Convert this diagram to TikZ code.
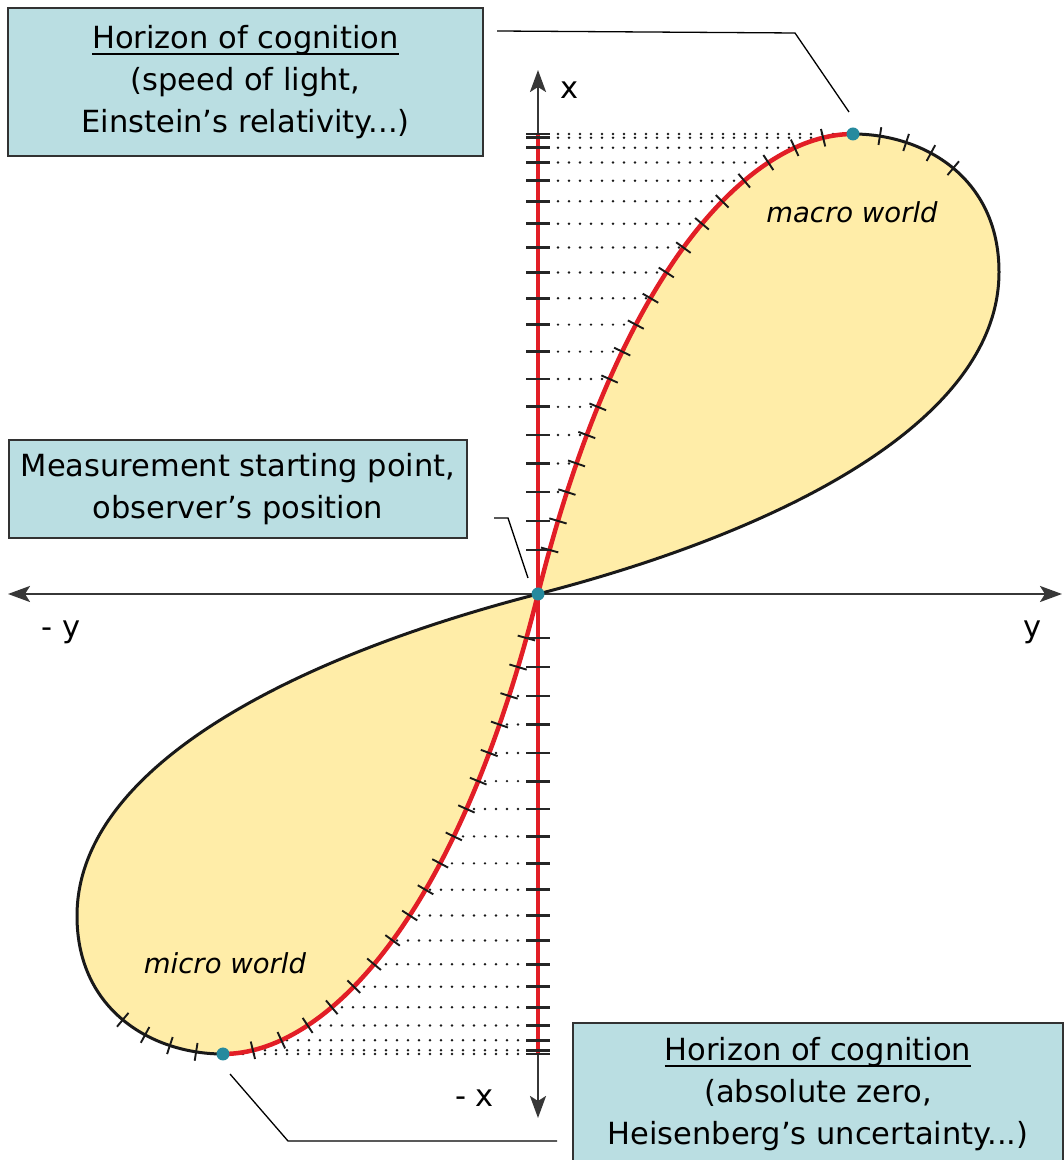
\documentclass[tikz,border=0pt]{standalone}
\usepackage{fontspec}
\setmainfont{DejaVu Sans}
\usetikzlibrary{decorations.markings,arrows.meta}
\definecolor{boxfill}{RGB}{186,222,226}
\definecolor{boxline}{RGB}{50,50,50}
\definecolor{lobefill}{RGB}{255,237,168}
\definecolor{curvered}{RGB}{226,30,38}
\definecolor{dotteal}{RGB}{38,138,158}
\definecolor{axisgray}{RGB}{55,55,55}
\newcount\mkcnt
\newcommand\myul[1]{\setbox0=\hbox{#1}\rlap{\rule[-7pt]{\wd0}{2pt}}\box0}
\begin{document}
\begin{tikzpicture}[x=1pt,y=1pt,
  >={Stealth[length=22pt,width=16pt,inset=5pt]},
  txt/.style={font=\fontsize{30.5}{42}\selectfont, text=black},
  hbox/.style={txt, draw=boxline, line width=1.5pt, fill=boxfill, align=center, inner sep=0pt},
  callout/.style={draw=black, line width=1.3pt},
  axisline/.style={draw=axisgray, line width=2.6pt},
  redline/.style={draw=curvered, line width=4.5pt},
  outline/.style={draw=black!90, line width=3pt},
  ctick/.style={draw=black!90, line width=1.9pt},
  atick/.style={draw=black!85, line width=2.8pt},
  dotline/.style={draw=black!90, line width=2.7pt, line cap=round, dash pattern=on 0pt off 11pt},
  pointdot/.style={circle, fill=dotteal, inner sep=0pt, minimum size=13pt},
  lobetxt/.style={font=\fontsize{27.5}{33}\selectfont\itshape, text=black}
]
\useasboundingbox (0,0) rectangle (1064,1160);
\clip (0,0) rectangle (1064,1160);

% boxes
\node[hbox, minimum width=475pt, minimum height=148pt] (h1) at (245.5,1078)
  {\myul{Horizon of cognition}\\(speed of light,\\Einstein’s relativity...)};
\node[hbox, minimum width=458pt, minimum height=98pt] (mp) at (238,671)
  {Measurement starting point,\\observer’s position};
\node[hbox, minimum width=490pt, minimum height=142pt] (h2) at (818,66)
  {\myul{Horizon of cognition}\\(absolute zero,\\Heisenberg’s uncertainty...)};

% key points
\coordinate (O) at (538,566);
\coordinate (T) at (853,1026);
\coordinate (B) at (223,106);

% callouts
\coordinate (c1a) at (497,1129); \coordinate (c1b) at (795,1127); \coordinate (c1c) at (849,1048);
\draw[callout] (c1a) -- (c1b) -- (c1c);
\coordinate (c2a) at (494,642); \coordinate (c2b) at (508,642); \coordinate (c2c) at (528,582);
\draw[callout] (c2a) -- (c2b) -- (c2c);
\coordinate (c3a) at (230,86); \coordinate (c3b) at (288,19); \coordinate (c3c) at (557,19);
\draw[callout] (c3a) -- (c3b) -- (c3c);

% axes
\coordinate (xl) at (8,566); \coordinate (xr) at (1062,566);
\coordinate (yt) at (538,1090); \coordinate (yb) at (538,42);
\draw[axisline, <->] (xl) -- (xr);
\draw[axisline, <->] (yb) -- (yt);

% lobes
\begin{scope}[shift={(538,566)}]
\foreach \rot/\pre in {0/u,180/l}{
 \begin{scope}[rotate=\rot]
  \global\mkcnt=0
  \path[decorate, decoration={markings,
     mark=between positions 0pt and 550pt step 30.2pt with
     {\global\advance\mkcnt by 1 \coordinate (\pre\the\mkcnt);}}]
     (315,460) .. controls (215,460) and (82.3,330) .. (0,0);
  \foreach \n in {1,...,19}{
    \draw[dotline] (\pre\n -| O) ++(20,0) -- (\pre\n);
  }
  \path[fill=lobefill, outline]
     (0,0) .. controls (82.3,330) and (215,460) .. (315,460)
     .. controls (385,460) and (461,417) .. (461,322)
     .. controls (461,172) and (242,62.5) .. (0,0) -- cycle;
  \draw[redline, postaction={decorate, decoration={markings,
     mark=between positions 30.2pt and 550pt step 30.2pt with
     {\draw[ctick] (0pt,-9pt) -- (0pt,9pt);}}}]
     (315,460) .. controls (215,460) and (82.3,330) .. (0,0);
  \path[postaction={decorate, decoration={markings,
     mark=between positions 27pt and 110pt step 27pt with
     {\draw[ctick] (0pt,-9pt) -- (0pt,9pt);}}}]
     (315,460) .. controls (385,460) and (461,417) .. (461,322);
 \end{scope}
}
\end{scope}

% red axis part and axis ticks
\coordinate (rt) at (538,1026); \coordinate (rb) at (538,106);
\draw[redline] (rb) -- (rt);
\foreach \pre in {u,l}{
  \foreach \n in {1,...,19}{
    \draw[atick] (\pre\n -| O) ++(-12,0) -- ++(24,0);
  }
}

% points
\node[pointdot] (dT) at (T) {};
\node[pointdot] (dO) at (O) {};
\node[pointdot] (dB) at (B) {};

% labels
\node[txt] (lx) at (569.5,1070) {x};
\node[txt] (lmy) at (61,528) {- y};
\node[txt] (ly) at (1033,528) {y};
\node[txt] (lmx) at (474.5,61.5) {- x};
\node[lobetxt] (mac) at (852,948) {macro world};
\node[lobetxt] (mic) at (225,197) {micro world};
\end{tikzpicture}
\end{document}
